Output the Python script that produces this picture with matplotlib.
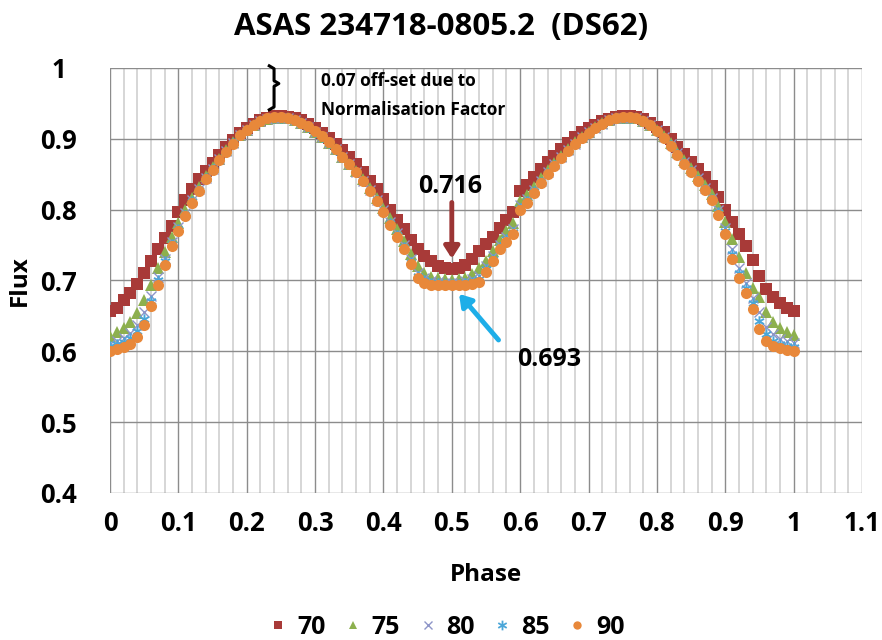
import numpy as np
import matplotlib.pyplot as plt
from matplotlib.lines import Line2D

plt.rcParams['font.family'] = ['Open Sans', 'DejaVu Sans']
plt.rcParams['font.weight'] = 'bold'

# Phase sampled every 0.01 from 0 to 1
phase = np.linspace(0, 1, 101)

flux_70 = [0.657, 0.661, 0.672, 0.682, 0.695, 0.711, 0.728, 0.745, 0.760, 0.777,
           0.796, 0.813, 0.829, 0.843, 0.855, 0.866, 0.877, 0.888, 0.898, 0.908,
           0.915, 0.921, 0.926, 0.930, 0.932, 0.932, 0.931, 0.929, 0.926, 0.921,
           0.915, 0.908, 0.901, 0.893, 0.884, 0.874, 0.864, 0.853, 0.841, 0.829,
           0.815, 0.800, 0.786, 0.772, 0.757, 0.745, 0.735, 0.727, 0.721, 0.718,
           0.716, 0.718, 0.722, 0.730, 0.742, 0.752, 0.762, 0.774, 0.786, 0.796,
           0.826, 0.835, 0.846, 0.857, 0.867, 0.876, 0.885, 0.894, 0.902, 0.909,
           0.915, 0.920, 0.925, 0.928, 0.931, 0.932, 0.932, 0.931, 0.928, 0.923,
           0.917, 0.909, 0.900, 0.889, 0.878, 0.867, 0.858, 0.846, 0.833, 0.818,
           0.800, 0.782, 0.766, 0.748, 0.729, 0.706, 0.688, 0.677, 0.668, 0.661,
           0.657]

flux_75 = [0.622, 0.627, 0.633, 0.641, 0.654, 0.672, 0.693, 0.717, 0.740, 0.762,
           0.781, 0.800, 0.817, 0.832, 0.847, 0.860, 0.872, 0.884, 0.895, 0.905,
           0.913, 0.920, 0.925, 0.928, 0.930, 0.930, 0.929, 0.926, 0.922, 0.917,
           0.910, 0.903, 0.894, 0.885, 0.875, 0.865, 0.854, 0.843, 0.830, 0.817,
           0.803, 0.788, 0.772, 0.756, 0.738, 0.720, 0.710, 0.705, 0.703, 0.702,
           0.701, 0.702, 0.704, 0.709, 0.717, 0.728, 0.742, 0.757, 0.770, 0.781,
           0.812, 0.820, 0.832, 0.845, 0.856, 0.866, 0.876, 0.886, 0.895, 0.903,
           0.910, 0.916, 0.922, 0.926, 0.929, 0.930, 0.930, 0.929, 0.925, 0.920,
           0.913, 0.904, 0.894, 0.882, 0.870, 0.859, 0.848, 0.835, 0.822, 0.805,
           0.783, 0.758, 0.733, 0.710, 0.690, 0.677, 0.655, 0.641, 0.633, 0.627,
           0.623]

flux_80 = [0.611, 0.615, 0.619, 0.626, 0.637, 0.655, 0.678, 0.705, 0.731, 0.755,
           0.775, 0.795, 0.813, 0.829, 0.845, 0.858, 0.871, 0.883, 0.894, 0.905,
           0.913, 0.920, 0.925, 0.928, 0.930, 0.930, 0.929, 0.926, 0.922, 0.917,
           0.910, 0.903, 0.894, 0.885, 0.875, 0.864, 0.853, 0.841, 0.828, 0.814,
           0.799, 0.783, 0.767, 0.750, 0.730, 0.711, 0.703, 0.699, 0.698, 0.697,
           0.697, 0.697, 0.699, 0.702, 0.707, 0.720, 0.735, 0.750, 0.762, 0.773,
           0.806, 0.815, 0.828, 0.841, 0.853, 0.864, 0.874, 0.884, 0.893, 0.902,
           0.909, 0.915, 0.921, 0.926, 0.929, 0.930, 0.930, 0.929, 0.925, 0.919,
           0.912, 0.902, 0.892, 0.880, 0.867, 0.856, 0.844, 0.831, 0.817, 0.799,
           0.774, 0.744, 0.718, 0.697, 0.675, 0.655, 0.634, 0.624, 0.618, 0.614,
           0.612]

flux_85 = [0.607, 0.610, 0.613, 0.619, 0.629, 0.646, 0.671, 0.700, 0.727, 0.752,
           0.773, 0.793, 0.812, 0.828, 0.844, 0.857, 0.870, 0.882, 0.894, 0.905,
           0.913, 0.920, 0.925, 0.929, 0.930, 0.930, 0.929, 0.926, 0.922, 0.917,
           0.910, 0.903, 0.894, 0.884, 0.874, 0.864, 0.853, 0.840, 0.827, 0.813,
           0.797, 0.781, 0.764, 0.747, 0.726, 0.707, 0.700, 0.697, 0.696, 0.695,
           0.695, 0.695, 0.696, 0.698, 0.702, 0.716, 0.731, 0.747, 0.758, 0.769,
           0.803, 0.812, 0.826, 0.839, 0.852, 0.863, 0.873, 0.883, 0.892, 0.901,
           0.908, 0.915, 0.921, 0.926, 0.929, 0.930, 0.930, 0.929, 0.925, 0.919,
           0.911, 0.901, 0.891, 0.878, 0.866, 0.854, 0.842, 0.829, 0.815, 0.796,
           0.770, 0.737, 0.710, 0.690, 0.668, 0.643, 0.624, 0.615, 0.610, 0.607,
           0.606]

flux_90 = [0.601, 0.603, 0.606, 0.611, 0.620, 0.637, 0.664, 0.694, 0.722, 0.748,
           0.770, 0.791, 0.810, 0.826, 0.843, 0.856, 0.870, 0.882, 0.893, 0.905,
           0.913, 0.920, 0.925, 0.929, 0.931, 0.931, 0.930, 0.927, 0.923, 0.918,
           0.911, 0.904, 0.895, 0.885, 0.875, 0.864, 0.853, 0.840, 0.826, 0.812,
           0.796, 0.779, 0.762, 0.745, 0.723, 0.703, 0.696, 0.694, 0.693, 0.693,
           0.693, 0.693, 0.694, 0.695, 0.698, 0.712, 0.728, 0.744, 0.755, 0.765,
           0.800, 0.810, 0.824, 0.838, 0.851, 0.862, 0.873, 0.883, 0.892, 0.901,
           0.908, 0.915, 0.921, 0.926, 0.929, 0.931, 0.931, 0.929, 0.925, 0.919,
           0.911, 0.901, 0.890, 0.877, 0.865, 0.853, 0.841, 0.828, 0.813, 0.793,
           0.766, 0.730, 0.703, 0.683, 0.660, 0.632, 0.614, 0.607, 0.604, 0.602,
           0.601]

labels = ['70', '75', '80', '85', '90']
colors = ['#A83A38', '#8DB04E', '#8E95C8', '#4AA6D8', '#E8883A']
markers = ['s', '^', 'x', '$\\ast$', 'o']
sizes = [8, 8, 6.5, 7.5, 8]

x_ticks = [0, 0.1, 0.2, 0.3, 0.4, 0.5, 0.6, 0.7, 0.8, 0.9, 1, 1.1]
x_labels = ['0', '0.1', '0.2', '0.3', '0.4', '0.5', '0.6', '0.7', '0.8', '0.9', '1', '1.1']
y_ticks = [0.4, 0.5, 0.6, 0.7, 0.8, 0.9, 1]
y_labels = ['0.4', '0.5', '0.6', '0.7', '0.8', '0.9', '1']


def main():
    fig = plt.figure(figsize=(8.82, 6.4), dpi=100)
    ax = fig.add_axes([0.1247, 0.2297, 0.8526, 0.6641])

    series = [flux_70, flux_75, flux_80, flux_85, flux_90]
    for ys, lab, c, m, s in zip(series, labels, colors, markers, sizes):
        ax.plot(phase, ys, linestyle='none', marker=m, color=c, markersize=s,
                markeredgewidth=1.0 if m == 'x' else 0, label=lab)

    ax.set_xlim(0, 1.1)
    ax.set_ylim(0.4, 1.0)
    ax.set_xticks(x_ticks, labels=x_labels)
    ax.set_yticks(y_ticks, labels=y_labels)
    ax.set_xticks(np.arange(0, 1.1001, 0.02), minor=True)
    ax.tick_params(which='both', length=0, labelsize=18.5)
    ax.tick_params(axis='y', pad=37)
    ax.tick_params(axis='x', pad=12)
    for t in ax.get_yticklabels():
        t.set_horizontalalignment('center')
    ax.grid(True, which='minor', axis='x', color='#cfcfcf', linewidth=1.2)
    ax.grid(True, which='major', axis='x', color='#8c8c8c', linewidth=1.0)
    ax.grid(True, which='major', axis='y', color='#8c8c8c', linewidth=1.0)
    ax.set_axisbelow(True)
    for sp in ax.spines.values():
        sp.set_visible(False)

    ax.set_xlabel('Phase', fontsize=17.5, fontweight='bold', labelpad=19)
    ax.set_ylabel('Flux', fontsize=17.5, fontweight='bold', labelpad=6)
    fig.suptitle('ASAS 234718-0805.2  (DS62)', fontsize=22.5, fontweight='bold', y=0.982)

    # annotations
    ax.text(0.497, 0.833, '0.716', fontsize=18, fontweight='bold', ha='center', va='center')
    ax.annotate('', xy=(0.5, 0.727), xytext=(0.5, 0.814),
                arrowprops=dict(arrowstyle='-|>,head_length=0.7,head_width=0.45',
                                color='#9B3534', lw=3.5))
    ax.text(0.642, 0.588, '0.693', fontsize=18, fontweight='bold', ha='center', va='center')
    ax.annotate('', xy=(0.508, 0.684), xytext=(0.571, 0.613),
                arrowprops=dict(arrowstyle='-|>,head_length=0.7,head_width=0.45',
                                color='#1EAEE8', lw=3.5))

    # curly brace for the offset
    bx = [0.233, 0.24, 0.24, 0.247, 0.24, 0.24, 0.233]
    by = [1.003, 0.999, 0.982, 0.978, 0.974, 0.945, 0.941]
    ax.plot(bx, by, color='black', lw=2.2, clip_on=False)
    ax.text(0.308, 0.981, '0.07 off-set due to', fontsize=12.5, fontweight='bold', va='center')
    ax.text(0.308, 0.940, 'Normalisation Factor', fontsize=12.5, fontweight='bold', va='center')

    handles = [Line2D([], [], linestyle='none', marker=m, color=c,
                      markersize=6 if m != '$\\ast$' else 7,
                      markeredgewidth=1.0 if m == 'x' else 0)
               for m, c in zip(markers, colors)]
    fig.legend(handles, labels, loc='center', bbox_to_anchor=(0.506, 0.02),
               ncol=5, frameon=False, handlelength=0.8,
               handletextpad=0.35, columnspacing=0.7, prop={'weight': 'bold', 'size': 18})

    fig.savefig('out.png', dpi=100)


if __name__ == "__main__":
    main()
